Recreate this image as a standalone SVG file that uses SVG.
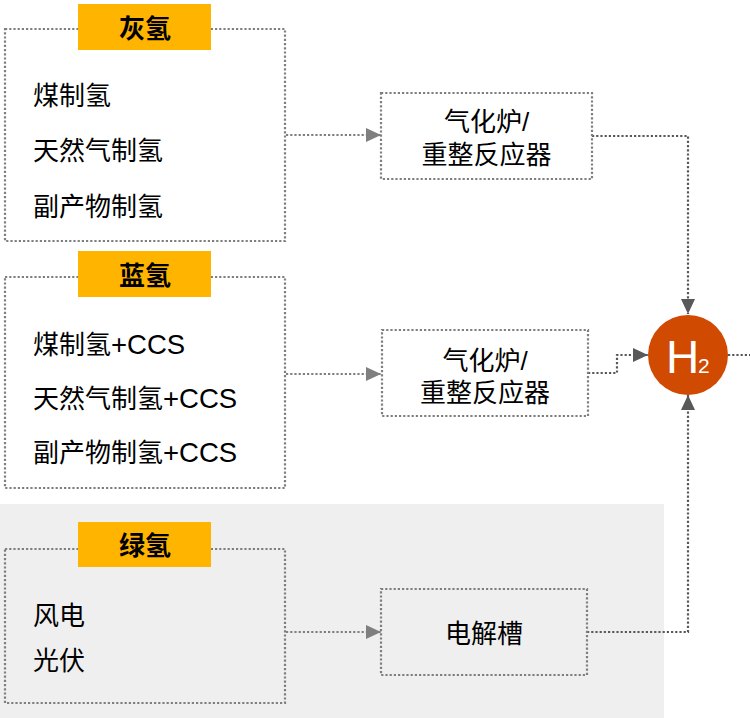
<svg xmlns="http://www.w3.org/2000/svg" width="750" height="718" viewBox="0 0 750 718">
<defs>
<style>
.box{fill:none;stroke:#7f7f7f;stroke-width:2.2;stroke-dasharray:2.2 2}
.lbl{fill:#FFB400}
.t{font-family:"Liberation Sans","Noto Sans CJK SC",sans-serif;font-size:26px;fill:#000}
.l{font-size:27.5px}
.b{font-weight:bold;text-anchor:middle}
.c{text-anchor:middle}
.in{fill:none;stroke:#7f7f7f;stroke-width:2.2;stroke-dasharray:2.2 2}
.out{fill:none;stroke:#595959;stroke-width:2.2;stroke-dasharray:2.2 2}
</style>
<marker id="aIn" markerUnits="userSpaceOnUse" markerWidth="16" markerHeight="16" viewBox="0 0 16 16" refX="15" refY="8" orient="auto">
<path d="M0,1 L15,8 L0,15 Z" fill="#7f7f7f"/>
</marker>
<marker id="aOut" markerUnits="userSpaceOnUse" markerWidth="16" markerHeight="16" viewBox="0 0 16 16" refX="15" refY="8" orient="auto">
<path d="M0,1 L15,8 L0,15 Z" fill="#595959"/>
</marker>
</defs>
<rect x="0" y="504" width="664" height="214" fill="#EFEFEF"/>

<g id="connectors">
<path class="in" d="M286,135 H381" marker-end="url(#aIn)"/>
<path class="in" d="M286,374 H381" marker-end="url(#aIn)"/>
<path class="in" d="M286,632 H381" marker-end="url(#aIn)"/>
<path class="out" d="M592,136 H688 V314" marker-end="url(#aOut)"/>
<path class="out" d="M588,373 H617 V355 H648" marker-end="url(#aOut)"/>
<path class="out" d="M587,632 H688 V395" marker-end="url(#aOut)"/>
<path class="out" d="M728,355 H750"/>
</g>

<g id="grey">
<rect class="box" x="5" y="29" width="280" height="212"/>
<rect class="lbl" x="78" y="4" width="133" height="46"/>
<text class="t b" x="145" y="38">灰氢</text>
<text class="t" x="33" y="105">煤制氢</text>
<text class="t" x="33" y="160">天然气制氢</text>
<text class="t" x="33" y="216">副产物制氢</text>
</g>

<g id="blue">
<rect class="box" x="5" y="277" width="280" height="211"/>
<rect class="lbl" x="78" y="251" width="133" height="46"/>
<text class="t b" x="145" y="285">蓝氢</text>
<text class="t" x="33" y="354">煤制氢<tspan class="l">+CCS</tspan></text>
<text class="t" x="33" y="408">天然气制氢<tspan class="l">+CCS</tspan></text>
<text class="t" x="33" y="462">副产物制氢<tspan class="l">+CCS</tspan></text>
</g>

<g id="green">
<rect class="box" x="5" y="549" width="280" height="154"/>
<rect class="lbl" x="78" y="522" width="133" height="45"/>
<text class="t b" x="145" y="555">绿氢</text>
<text class="t" x="33" y="625">风电</text>
<text class="t" x="33" y="670">光伏</text>
</g>

<g id="reactor1">
<rect class="box" x="381" y="93" width="211" height="86"/>
<text class="t c" x="486.5" y="131">气化炉/</text>
<text class="t c" x="486.5" y="164">重整反应器</text>
</g>

<g id="reactor2">
<rect class="box" x="382" y="330" width="206" height="86"/>
<text class="t c" x="485" y="370">气化炉/</text>
<text class="t c" x="485" y="402">重整反应器</text>
</g>

<g id="electrolyzer">
<rect class="box" x="381" y="589" width="206" height="86"/>
<text class="t c" x="484" y="643">电解槽</text>
</g>

<g id="h2">
<circle cx="688" cy="355" r="40" fill="#D04A02"/>
<text x="666" y="373" font-family="Liberation Sans, Arial, sans-serif" font-size="46" fill="#fff">H</text>
<text x="698" y="373" font-family="Liberation Sans, Arial, sans-serif" font-size="21" fill="#fff">2</text>
</g>
</svg>
